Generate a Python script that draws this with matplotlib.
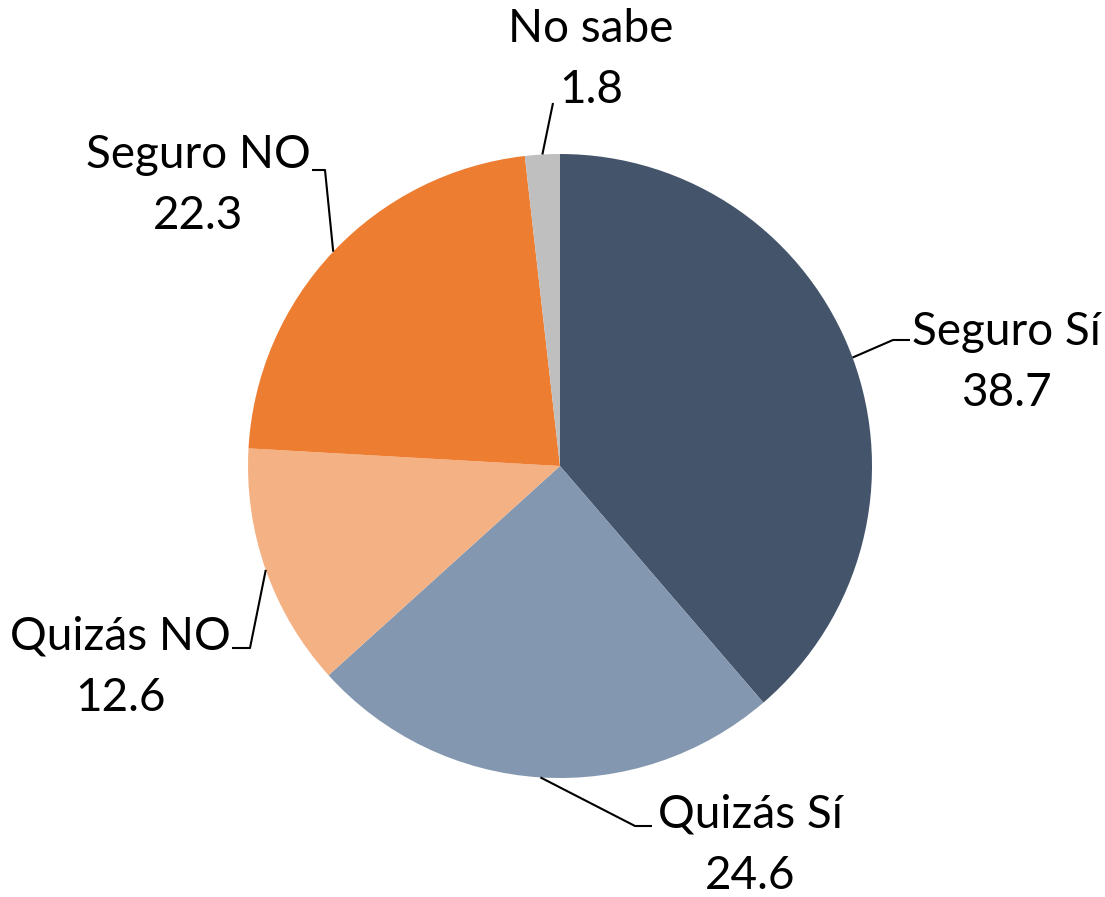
import numpy as np
import matplotlib.pyplot as plt

# Datos del gráfico
categorias = ['Seguro Sí', 'Quizás Sí', 'Quizás NO', 'Seguro NO', 'No sabe']
valores = [38.7, 24.6, 12.6, 22.3, 1.8]
colores = ['#44546A', '#8497B0', '#F4B183', '#ED7D31', '#BFBFBF']

W, H = 1105, 897
plt.rcParams['font.family'] = ['Lato', 'DejaVu Sans']

fig = plt.figure(figsize=(W / 100, H / 100), dpi=100)
ax = fig.add_axes([0, 0, 1, 1])
ax.set_xlim(0, W)
ax.set_ylim(0, H)
ax.axis('off')

cx, cy, r = 560, H - 466, 312
wedges, _ = ax.pie(valores, colors=colores, startangle=90, counterclock=False,
                   center=(cx, cy), radius=r, wedgeprops=dict(linewidth=0),
                   frame=True)
ax.set_xlim(0, W)
ax.set_ylim(0, H)
ax.axis('off')

# posición de las etiquetas (px desde arriba): codo de la línea, fin horizontal, texto
etiquetas = [
    ((893, 340), (910, 340), (1006, 345)),
    ((635, 826), (652, 826), (750, 828)),
    ((250, 648), (232, 648), (120, 650)),
    ((325, 170), (312, 170), (198, 168)),
    ((553, 103), None, (591, 42)),
]

for w, nombre, v, (codo, fin, txt) in zip(wedges, categorias, valores, etiquetas):
    ang = np.deg2rad((w.theta1 + w.theta2) / 2)
    x0 = cx + r * np.cos(ang)
    y0 = cy + r * np.sin(ang)
    xs = [x0, codo[0]]
    ys = [y0, H - codo[1]]
    if fin is not None:
        xs.append(fin[0])
        ys.append(H - fin[1])
    ax.plot(xs, ys, color='black', lw=1.5, solid_capstyle='butt')
    ax.text(txt[0], H - txt[1], nombre, ha='center', va='baseline', fontsize=33)
    ax.text(txt[0], H - txt[1] - 61, f'{v:.1f}', ha='center', va='baseline', fontsize=33)

fig.savefig('out.png', dpi=100)
